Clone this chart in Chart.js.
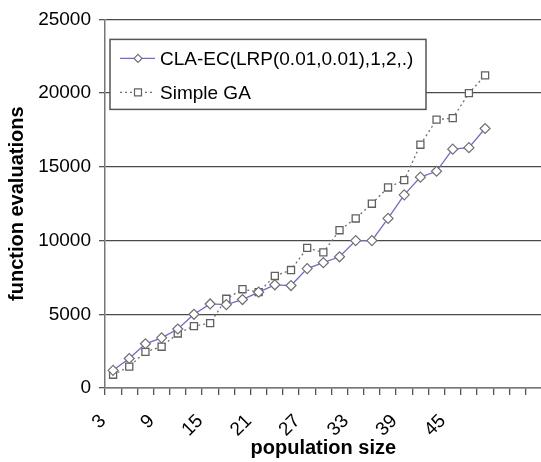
<!DOCTYPE html>
<html>
<head>
<meta charset="utf-8">
<script src="https://cdn.jsdelivr.net/npm/chart.js@4/dist/chart.umd.min.js"></script>
<style>
  html, body { margin: 0; padding: 0; background: #fff; overflow: hidden; }
  #wrap { width: 541px; height: 462px; overflow: hidden; }
</style>
</head>
<body>
<div id="wrap"><canvas id="evalChart" width="548" height="462"></canvas></div>
<script>
// population sizes (last three slots are empty categories on the Excel axis)
const popSizes = ['3', '5', '7', '9', '11', '13', '15', '17', '19', '21', '23', '25',
                  '27', '29', '31', '33', '35', '37', '39', '41', '43', '45', '47', '49', '', '', ''];

// function evaluations
const claEc = [1200, 2000, 3000, 3400, 4000, 5000, 5700, 5650, 6000, 6500, 7000, 6950,
               8100, 8500, 8900, 10000, 10000, 11500, 13100, 14300, 14700, 16200, 16300, 17600];
const simpleGa = [900, 1450, 2450, 2800, 3700, 4200, 4400, 6050, 6700, 6500, 7600, 8000,
                  9500, 9200, 10700, 11500, 12500, 13600, 14100, 16500, 18200, 18300, 20000, 21200];

const yTicks = [0, 5000, 10000, 15000, 20000, 25000];

const FONT = "'Liberation Sans', Arial, sans-serif";

// legend drawn inside the plot area, the way Excel placed it
const boxLegend = {
    id: 'boxLegend',
    afterDraw(chart) {
        const ctx = chart.ctx;
        const area = chart.chartArea;
        const x = area.left + 5, y = area.top + 20, w = 316, h = 70;
        ctx.save();
        ctx.fillStyle = '#fff';
        ctx.fillRect(x, y, w, h);
        ctx.strokeStyle = '#555';
        ctx.lineWidth = 1.5;
        ctx.strokeRect(x, y, w, h);
        ctx.font = '19px ' + FONT;
        ctx.textBaseline = 'middle';
        chart.data.datasets.forEach((ds, i) => {
            const ry = y + 19 + i * 34;
            ctx.strokeStyle = ds.borderColor;
            ctx.lineWidth = 1.2;
            ctx.setLineDash(ds.borderDash || []);
            ctx.beginPath();
            ctx.moveTo(x + 10, ry);
            ctx.lineTo(x + 45, ry);
            ctx.stroke();
            ctx.setLineDash([]);
            ctx.strokeStyle = ds.pointBorderColor;
            ctx.fillStyle = '#fff';
            ctx.beginPath();
            if (ds.pointStyle === 'rectRot') {
                ctx.moveTo(x + 28, ry - 4);
                ctx.lineTo(x + 32, ry);
                ctx.lineTo(x + 28, ry + 4);
                ctx.lineTo(x + 24, ry);
                ctx.closePath();
            } else {
                ctx.rect(x + 24.5, ry - 3.5, 7, 7);
            }
            ctx.fill();
            ctx.stroke();
            ctx.fillStyle = '#000';
            ctx.fillText(ds.label, x + 50, ry + 1);
        });
        ctx.restore();
    }
};

new Chart(document.getElementById('evalChart').getContext('2d'), {
    type: 'line',
    data: {
        labels: popSizes,
        datasets: [
            {
                label: 'CLA-EC(LRP(0.01,0.01),1,2,.)',
                data: claEc,
                borderColor: '#6b6bd6',
                borderWidth: 1.3,
                pointStyle: 'rectRot',
                pointRadius: 5,
                pointBorderColor: '#707070',
                pointBackgroundColor: '#fff',
                pointBorderWidth: 1.2,
                tension: 0,
                fill: false
            },
            {
                label: 'Simple GA',
                data: simpleGa,
                borderColor: '#707070',
                borderWidth: 1.3,
                borderDash: [2, 3],
                pointStyle: 'rect',
                pointRadius: 5,
                pointBorderColor: '#606060',
                pointBackgroundColor: '#fff',
                pointBorderWidth: 1.3,
                tension: 0,
                fill: false
            }
        ]
    },
    options: {
        responsive: false,
        animation: false,
        layout: { padding: { left: 0, right: 0, top: 12, bottom: 0 } },
        plugins: {
            legend: { display: false },
            tooltip: { enabled: false }
        },
        scales: {
            x: {
                type: 'category',
                offset: true,
                grid: {
                    offset: true,
                    drawOnChartArea: false,
                    drawTicks: true,
                    tickLength: 7,
                    tickColor: '#555',
                    lineWidth: 1.3
                },
                border: { color: '#777', width: 1.5 },
                ticks: {
                    autoSkip: false,
                    maxRotation: 45,
                    minRotation: 45,
                    padding: 15,
                    labelOffset: -10,
                    color: '#000',
                    font: { family: FONT, size: 19 },
                    callback: function (val, idx) {
                        return idx % 3 === 0 ? popSizes[idx] : '';
                    }
                },
                title: {
                    display: true,
                    text: 'population size',
                    color: '#000',
                    font: { family: FONT, size: 20, weight: 'bold' },
                    padding: { top: 0, bottom: 2 }
                },
                afterFit: s => {
                    s.height = 74;
                    s.paddingLeft = 0;
                    s.paddingRight = 0;
                }
            },
            y: {
                min: 0,
                max: 25000,
                afterBuildTicks: s => { s.ticks = yTicks.map(v => ({ value: v })); },
                grid: {
                    color: '#4a4a4a',
                    lineWidth: 1.3,
                    tickLength: 6,
                    tickColor: '#555'
                },
                border: { color: '#777', width: 1.5 },
                ticks: {
                    padding: 8,
                    color: '#000',
                    font: { family: FONT, size: 19 },
                    callback: v => String(v)
                },
                title: {
                    display: true,
                    text: 'function evaluations',
                    color: '#000',
                    font: { family: FONT, size: 20, weight: 'bold' },
                    padding: { top: 5, bottom: 0 }
                },
                afterFit: s => { s.width = 105; }
            }
        }
    },
    plugins: [boxLegend]
});
</script>
</body>
</html>
